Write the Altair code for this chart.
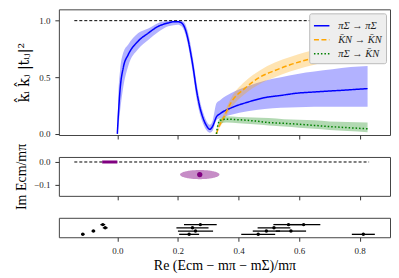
import altair as alt
import numpy as np
import pandas as pd

# ---------------- data ----------------
X_DOMAIN = [-0.193, 0.90]
X_TICKS = [0.0, 0.2, 0.4, 0.6, 0.8]

series_names = ["πΣ → πΣ", "K̄N → K̄N", "πΣ → K̄N"]

# πΣ -> πΣ
bs_x = [0.0, 0.003, 0.009, 0.020, 0.036, 0.069, 0.102, 0.135, 0.168, 0.185, 0.200, 0.212,
        0.222, 0.232, 0.241, 0.250, 0.261, 0.272, 0.283, 0.295, 0.305, 0.315, 0.327, 0.34,
        0.376, 0.43, 0.486, 0.54, 0.595, 0.65, 0.71, 0.77, 0.826]
bs_y = [0.0, 0.15, 0.39, 0.59, 0.70, 0.82, 0.89, 0.95, 0.98, 0.99, 0.99, 0.98,
        0.94, 0.85, 0.73, 0.59, 0.39, 0.24, 0.14, 0.07, 0.04, 0.07, 0.15, 0.18,
        0.23, 0.28, 0.32, 0.34, 0.36, 0.37, 0.38, 0.39, 0.40]
bs_lo = [0.0, 0.05, 0.20, 0.42, 0.60, 0.75, 0.83, 0.90, 0.95, 0.96, 0.965, 0.95,
         0.90, 0.80, 0.67, 0.52, 0.32, 0.18, 0.09, 0.03, 0.01, 0.03, 0.12, 0.14,
         0.17, 0.20, 0.22, 0.23, 0.235, 0.24, 0.24, 0.24, 0.24]
bs_hi = [0.0, 0.30, 0.56, 0.72, 0.79, 0.89, 0.93, 0.98, 1.0, 1.0, 1.0, 1.0,
         0.98, 0.91, 0.80, 0.66, 0.46, 0.30, 0.19, 0.11, 0.08, 0.12, 0.27, 0.30,
         0.36, 0.42, 0.47, 0.50, 0.53, 0.55, 0.57, 0.59, 0.60]

# K̄N -> K̄N
kk_x = [0.327, 0.335, 0.35, 0.376, 0.42, 0.47, 0.52, 0.57, 0.62, 0.68, 0.74, 0.79, 0.826]
kk_y = [0.0, 0.06, 0.14, 0.28, 0.40, 0.50, 0.56, 0.61, 0.65, 0.69, 0.72, 0.74, 0.75]
kk_lo = [0.0, 0.04, 0.11, 0.23, 0.35, 0.44, 0.50, 0.55, 0.59, 0.63, 0.66, 0.68, 0.69]
kk_hi = [0.0, 0.08, 0.17, 0.32, 0.46, 0.56, 0.63, 0.68, 0.72, 0.76, 0.79, 0.81, 0.82]

# πΣ -> K̄N
pk_x = [0.327, 0.332, 0.34, 0.36, 0.40, 0.45, 0.50, 0.55, 0.60, 0.65, 0.70, 0.76, 0.826]
pk_y = [0.0, 0.08, 0.12, 0.13, 0.125, 0.115, 0.10, 0.093, 0.085, 0.075, 0.065, 0.055, 0.045]
pk_lo = [0.0, 0.06, 0.09, 0.10, 0.095, 0.085, 0.075, 0.065, 0.055, 0.045, 0.035, 0.025, 0.015]
pk_hi = [0.0, 0.10, 0.14, 0.155, 0.15, 0.145, 0.14, 0.13, 0.125, 0.12, 0.11, 0.105, 0.10]

unit_x = [-0.142, 0.831]
unit_y = [1.0, 1.0]
zero_y = [0.0, 0.0]

# poles (imaginary part panel)
bar_re = [-0.05, 0.0]
bar_im = 0.0
pole_re = 0.272
pole_im = -0.055
pole_re_err = 0.065
pole_im_err = 0.02

# energy levels
lev_x = [-0.114, 0.237, 0.465, 0.812,
         -0.079, 0.258, 0.492, 0.573,
         -0.040, 0.248, 0.517,
         -0.048, 0.274, 0.565, 0.615]
lev_err = [0.006, 0.033, 0.056, 0.038,
           0.006, 0.058, 0.045, 0.050,
           0.008, 0.053, 0.054,
           0.008, 0.054, 0.050, 0.055]
lev_row = [0, 0, 0, 0,
           1, 1, 1, 1,
           2, 2, 2,
           3, 3, 3, 3]

# ---------------- styles ----------------
COLORS = ["#0000ff", "#ffa500", "#008000"]
DASHES = [[1, 0], [5, 2.5], [1.5, 2]]
FONT = "Liberation Serif"
W = 332

xscale = alt.Scale(domain=X_DOMAIN, nice=False, zero=False)
x_nolab = alt.Axis(values=X_TICKS, labels=False, title=None, tickSize=4)
x_lab = alt.Axis(values=X_TICKS, format=".1f", title="Re (Ecm − mπ − mΣ)/mπ",
                 tickSize=4, titleFontSize=14, titlePadding=3)

def sdf(name, xs, ys, lo, hi):
    return pd.DataFrame({"x": xs, "y": ys, "lo": lo, "hi": hi, "series": name})

frames = [sdf(series_names[0], bs_x, bs_y, bs_lo, bs_hi),
          sdf(series_names[1], kk_x, kk_y, kk_lo, kk_hi),
          sdf(series_names[2], pk_x, pk_y, pk_lo, pk_hi)]
curves = pd.concat(frames, ignore_index=True)

yscale_top = alt.Scale(domain=[-0.01, 1.1], nice=False, zero=False)

bands = [
    alt.Chart(f).mark_area(color=c, opacity=0.3, interpolate="monotone").encode(
        x=alt.X("x:Q", scale=xscale, axis=x_nolab),
        y=alt.Y("lo:Q", scale=yscale_top),
        y2="hi:Q",
    )
    for f, c in zip(frames, COLORS)
]

unit_line = alt.Chart(pd.DataFrame({"x": unit_x, "y": unit_y})).mark_line(
    color="black", strokeWidth=1, strokeDash=[3, 2]
).encode(x=alt.X("x:Q", scale=xscale, axis=x_nolab), y=alt.Y("y:Q", scale=yscale_top))

lines = alt.Chart(curves).mark_line(strokeWidth=1.5, interpolate="monotone").encode(
    x=alt.X("x:Q", scale=xscale, axis=x_nolab),
    y=alt.Y("y:Q", scale=yscale_top,
            axis=alt.Axis(values=[0, 0.5, 1.0], format=".1f", title="k̂ᵢ k̂ⱼ |tᵢⱼ|²",
                          titleFont="DejaVu Serif", titleFontSize=14, titlePadding=7)),
    color=alt.Color("series:N", scale=alt.Scale(domain=series_names, range=COLORS),
                    legend=alt.Legend(title=None, orient="top-right")),
    strokeDash=alt.StrokeDash("series:N", scale=alt.Scale(domain=series_names, range=DASHES),
                              legend=alt.Legend(title=None, orient="top-right")),
)

top = alt.layer(*bands, unit_line, lines).properties(width=W, height=126)

# ---------------- middle panel ----------------
yscale_mid = alt.Scale(domain=[-0.148, 0.022], nice=False, zero=False)
y_mid_axis = alt.Axis(values=[0.0, -0.1], format=".1f", title="Im Ecm/mπ",
                      titleFontSize=14, titlePadding=5)

zero_line = alt.Chart(pd.DataFrame({"x": unit_x, "y": zero_y})).mark_line(
    color="black", strokeWidth=1, strokeDash=[3, 2]
).encode(x=alt.X("x:Q", scale=xscale, axis=x_nolab),
         y=alt.Y("y:Q", scale=yscale_mid, axis=y_mid_axis))

bar = alt.Chart(pd.DataFrame({"x": [bar_re[0]], "x2": [bar_re[1]], "y": [bar_im]})).mark_rule(
    color="#800080", strokeWidth=3
).encode(x=alt.X("x:Q", scale=xscale), x2="x2:Q", y=alt.Y("y:Q", scale=yscale_mid))

t = np.linspace(0, np.pi, 60)
ell = pd.DataFrame({
    "x": pole_re + pole_re_err * np.cos(t),
    "y": pole_im + pole_im_err * np.sin(t),
    "y2": pole_im - pole_im_err * np.sin(t),
})
ellipse = alt.Chart(ell).mark_area(color="#800080", opacity=0.45).encode(
    x=alt.X("x:Q", scale=xscale), y=alt.Y("y:Q", scale=yscale_mid), y2="y2:Q")

center = alt.Chart(pd.DataFrame({"x": [pole_re], "y": [pole_im]})).mark_circle(
    color="#800080", opacity=1, size=28
).encode(x=alt.X("x:Q", scale=xscale), y=alt.Y("y:Q", scale=yscale_mid))

middle = alt.layer(zero_line, ellipse, bar, center).properties(width=W, height=39)

# ---------------- bottom panel ----------------
levels = pd.DataFrame({"x": lev_x, "err": lev_err, "row": lev_row})
yscale_bot = alt.Scale(domain=[-0.9, 5.1], nice=False, zero=False)

base_bot = alt.Chart(levels).transform_calculate(
    lo="datum.x - datum.err", hi="datum.x + datum.err")
errs = base_bot.mark_rule(color="black", strokeWidth=1.3).encode(
    x=alt.X("lo:Q", scale=xscale, axis=x_lab), x2="hi:Q",
    y=alt.Y("row:Q", scale=yscale_bot, axis=None))
pts = base_bot.mark_circle(color="black", opacity=1, size=12).encode(
    x=alt.X("x:Q", scale=xscale), y=alt.Y("row:Q", scale=yscale_bot))

bottom = alt.layer(errs, pts).properties(width=W, height=19.5)

chart = alt.vconcat(top, middle, bottom, spacing=22, bounds="flush").properties(
    padding={"left": 6, "top": 0, "right": 0, "bottom": 0}
).configure_view(
    stroke="#444", strokeWidth=1
).configure_axis(
    domain=False, grid=False, tickColor="#333", tickSize=4, labelPadding=5,
    labelColor="#222", labelFont=FONT, labelFontSize=9, titleFont=FONT,
    titleColor="black", titleFontWeight="normal",
).configure_legend(
    symbolType="stroke", symbolSize=240, symbolStrokeWidth=1.5,
    labelFont=FONT, labelFontSize=10.5, labelFontStyle="italic", labelColor="#222",
    fillColor="#eeeeee", strokeColor="#bbbbbb", padding=4, cornerRadius=2,
    offset=4, rowPadding=-2, labelOffset=8,
)

chart.save("out.html", embed_options={"renderer": "svg", "actions": False})
